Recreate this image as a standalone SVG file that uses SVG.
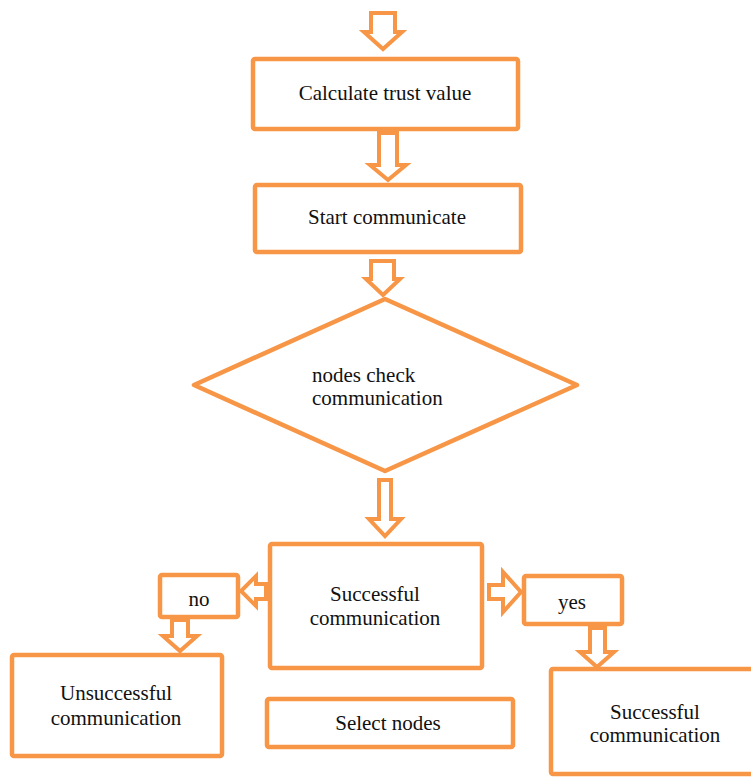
<svg xmlns="http://www.w3.org/2000/svg" width="751" height="777" viewBox="0 0 751 777">
<style>
.b{fill:#fff;stroke:#F79646;stroke-width:4.5;stroke-linejoin:round}
.a{fill:#fff;stroke:#F79646;stroke-width:4;stroke-linejoin:miter}
text{font-family:"Liberation Serif","Times New Roman",serif;font-size:21px;fill:#111}
.c{text-anchor:middle}
</style>
<rect width="751" height="777" fill="#fff"/>
<g id="connectors">
<polygon class="a" points="371,13 395,13 395,32 402,32 383,49 364,32 371,32"/>
<polygon class="a" points="379,133 397,133 397,165 406,165 388,180 370,165 379,165"/>
<polygon class="a" points="371,261 394,261 394,279 400,279 383,295 366,279 371,279"/>
<polygon class="a" points="379,480 391,480 391,519 401,519 385,536 369,519 379,519"/>
<polygon class="a" points="266,584 256,584 256,576 241,591 256,606 256,599 266,599"/>
<polygon class="a" points="489,585 503,585 503,572 521,592 503,612 503,599 489,599"/>
<polygon class="a" points="172,620 188,620 188,636 197,636 180,651 163,636 172,636"/>
<polygon class="a" points="590,628 605,628 605,652 614,652 597,667 580,652 590,652"/>
</g>
<g id="n1"><rect class="b" x="253" y="59" width="265" height="70" rx="2"/><text class="c" x="385" y="100">Calculate trust value</text></g>
<g id="n2"><rect class="b" x="255" y="185" width="266" height="67" rx="2"/><text class="c" x="387" y="224">Start communicate</text></g>
<g id="n3"><polygon class="b" points="385,299 577,385 385,471 194,385"/><text x="312" y="382">nodes check</text><text x="312" y="405">communication</text></g>
<g id="n4"><rect class="b" x="270" y="544" width="212" height="124" rx="2"/><text class="c" x="375" y="601">Successful</text><text class="c" x="375" y="625">communication</text></g>
<g id="n5"><rect class="b" x="160" y="575" width="78" height="42" rx="2"/><text class="c" x="199" y="606">no</text></g>
<g id="n6"><rect class="b" x="524" y="576" width="98" height="48" rx="2"/><text class="c" x="572" y="609">yes</text></g>
<g id="n7"><rect class="b" x="12" y="655" width="210" height="101" rx="2"/><text class="c" x="116" y="700">Unsuccessful</text><text class="c" x="116" y="725">communication</text></g>
<g id="n8"><rect class="b" x="267" y="699" width="246" height="48" rx="2"/><text class="c" x="388" y="730">Select nodes</text></g>
<g id="n9"><rect class="b" x="551" y="669" width="215" height="105" rx="2"/><text class="c" x="655" y="719">Successful</text><text class="c" x="655" y="742">communication</text></g>
</svg>
